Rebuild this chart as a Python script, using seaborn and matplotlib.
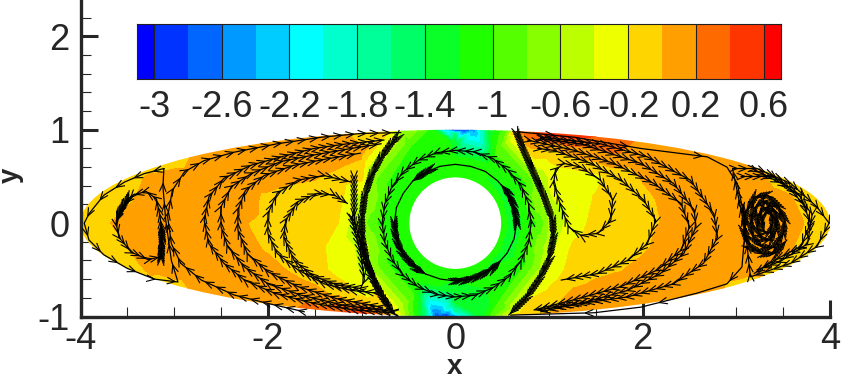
#!/usr/bin/env python3
import matplotlib

matplotlib.use("Agg")
import matplotlib.pyplot as plt
import numpy as np
import pandas as pd
import seaborn as sns
from matplotlib.collections import LineCollection
from matplotlib.colors import BoundaryNorm, ListedColormap
from matplotlib.patches import Circle, Ellipse
from matplotlib.tri import Triangulation

# contour bands
LEVELS = [-3.1, -3.0, -2.8, -2.6, -2.4, -2.2, -2.0, -1.8, -1.6, -1.4, -1.2,
          -1.0, -0.8, -0.6, -0.4, -0.2, 0.0, 0.2, 0.4, 0.6, 0.7]
BAND_COLORS = ["#0000ff", "#0033ff", "#0066ff", "#0099ff", "#00ccff", "#00ffff",
               "#00ffcc", "#00ff99", "#00ff66", "#0aff28", "#1eff00", "#55ff00",
               "#88ff00", "#bbff00", "#eeff00", "#ffd500", "#ffa000", "#ff6a00",
               "#ff3500", "#ff0000"]
LEGEND_TICKS = [-3, -2.6, -2.2, -1.8, -1.4, -1, -0.6, -0.2, 0.2, 0.6]
LEGEND_LABELS = ["-3", "-2.6", "-2.2", "-1.8", "-1.4", "-1", "-0.6", "-0.2", "0.2", "0.6"]

X_TICKS = [-4, -2, 0, 2, 4]
Y_TICKS = [-1, 0, 1, 2]

# field values, outer parts of the ellipse
FIELD_Y = [0.75, 0.5, 0.25, 0.0, -0.25, -0.5, -0.75]
LEFT_X = [-4, -3.75, -3.5, -3.25, -3, -2.75, -2.5, -2.25, -2, -1.75, -1.5, -1.25, -1]
LEFT_V = [
    [-.1, -.1, -.1, -.1, -.1, -.1, .02, .08, .1, .12, .12, .1, .04],
    [-.1, -.1, -.1, .02, .08, .1, .12, .12, .1, .04, .02, -.05, -.12],
    [-.1, -.1, -.02, .05, .1, .12, .12, .08, -.05, -.08, -.1, -.12, -.5],
    [-.05, -.02, .05, .1, .12, .12, .08, .01, -.05, -.08, -.12, -.2, -.75],
    [-.1, -.1, 0, .08, .1, .12, .12, .06, -.03, -.08, -.12, -.3, -.45],
    [-.1, -.1, -.1, .02, .08, .1, .12, .12, .07, -.02, -.1, -.28, -.42],
    [-.1, -.1, -.1, -.1, -.1, -.1, .05, .1, .12, .12, .06, -.05, -.3],
]
RIGHT_X = [1, 1.25, 1.5, 1.75, 2, 2.25, 2.5, 2.75, 3, 3.25, 3.5, 3.75, 4]
RIGHT_V = [
    [-.1, .05, .15, .2, .14, .12, .08, .0, -.1, -.1, -.1, -.1, -.1],
    [-.38, -.32, -.25, -.1, .02, .1, .12, .12, .1, .03, -.03, -.1, -.1],
    [-.42, -.32, -.18, -.1, -.05, .04, .1, .12, .12, .1, .05, -.02, -.1],
    [-.6, -.28, -.15, -.1, -.05, .02, .1, .12, .12, .12, .08, -.01, -.1],
    [-.5, -.18, -.1, -.08, -.03, .06, .1, .12, .12, .1, .05, -.05, -.1],
    [-.35, -.12, -.05, -.01, .05, .1, .12, .12, .1, .03, -.05, -.1, -.1],
    [-.15, .03, .08, .1, .1, .1, .05, .0, -.1, -.1, -.1, -.1, -.1],
]

# around the hole
POLAR_THETA = [0, 30, 60, 90, 120, 150, 180, 210, 240, 270, 300, 330]
POLAR_R = [0.49, 0.6, 0.72, 0.85, 0.95, 1.05]
POLAR_V = [
    [-1.1, -1.25, -1.2, -1.05, -.8, -.55],
    [-1.1, -1.25, -1.2, -1.05, -.8, -.5],
    [-1.1, -1.2, -1.15, -1.0, -.9, -.8],
    [-1.1, -1.2, -1.2, -1.25, -1.5, -3.0],
    [-1.1, -1.2, -1.15, -1.05, -1.0, -.85],
    [-1.1, -1.2, -1.15, -1.0, -.85, -.6],
    [-1.1, -1.2, -1.15, -1.0, -.8, -.55],
    [-1.1, -1.2, -1.15, -1.0, -.8, -.5],
    [-1.1, -1.2, -1.15, -1.05, -.9, -.75],
    [-1.1, -1.2, -1.25, -1.35, -1.8, -3.0],
    [-1.1, -1.2, -1.15, -1.1, -1.0, -.85],
    [-1.1, -1.25, -1.2, -1.05, -.8, -.5],
]

# values along the ellipse edge
TOP_EDGE_X = [-4, -3.75, -3.5, -3, -2.5, -2, -1.5, -1, -.75, -.5, -.25, -.1, 0, .1, .2,
              .35, .5, .6, .65, .75, 1, 1.25, 1.5, 2, 2.5, 3, 3.5, 3.75, 4]
TOP_EDGE_V = [-.05, -.05, -.05, -.08, .03, .08, .05, -.05, -.1, -.6, -1.1, -2.4, -3, -3,
              -2.5, -1.4, -1, -.6, .3, .35, .5, .5, .4, .15, .1, 0, -.08, -.08, -.05]
BOTTOM_EDGE_X = [-3.75, -3.5, -3, -2.5, -2, -1.5, -1.25, -1, -.75, -.6, -.45, -.3, -.2,
                 -.1, 0, .1, .25, .4, .55, .65, .75, 1, 1.5, 2, 2.5, 3, 3.5, 3.75]
BOTTOM_EDGE_V = [-.05, -.05, -.05, .02, .1, .25, .38, .5, .1, -.3, -1, -1.7, -2.8, -3,
                 -2.6, -2, -1.4, -.9, -.4, -.1, 0, 0, .05, .05, .02, -.05, -.08, -.08]

# streamlines, left half
L1_X = [-3.62, -3.59, -3.46, -3.28, -3.14, -3.13, -3.15, -3.19, -3.30, -3.44, -3.55, -3.62]
L1_Y = [0, -.15, -.31, -.39, -.36, -.15, .07, .26, .34, .30, .175, 0]
L1A_X = [-3.49, -3.55, -3.59, -3.62]
L1A_Y = [.27, .175, .10, .02]
L1B_X = [-3.14, -3.13, -3.14]
L1B_Y = [-.38, -.15, .0]
L2_X = [-3.11, -3.32, -3.53, -3.75, -3.91, -3.96, -3.91, -3.75, -3.50, -3.21, -2.96, -3.03, -3.09, -3.12, -3.11]
L2_Y = [.585, .53, .44, .30, .10, 0, -.18, -.34, -.485, -.60, -.63, -.40, .03, .39, .585]
L3_X = [-1.61, -2.00, -2.36, -2.71, -2.93, -3.03, -3.07, -3.02, -2.89, -2.68, -2.36, -1.90, -1.43, -1.01, -.58]
L3_Y = [-.95, -.86, -.77, -.61, -.43, -.22, .07, .35, .55, .67, .76, .85, .92, .96, .97]
L4_X = [-.65, -1.08, -1.51, -1.93, -2.25, -2.47, -2.63, -2.68, -2.63, -2.47, -2.18, -1.86, -1.51, -1.15, -.76]
L4_Y = [-.96, -.93, -.86, -.75, -.61, -.43, -.22, .03, .28, .48, .62, .71, .80, .85, .89]
L5_X = [-.65, -1.19, -1.65, -2.00, -2.25, -2.43, -2.50, -2.50, -2.39, -2.18, -1.86, -1.51, -1.11, -.79]
L5_Y = [-.95, -.88, -.77, -.65, -.47, -.25, -.04, .175, .39, .53, .66, .73, .80, .85]
L6_X = [-.79, -1.26, -1.68, -2.00, -2.22, -2.32, -2.32, -2.24, -2.04, -1.72, -1.36, -1.01]
L6_Y = [-.90, -.81, -.68, -.52, -.325, -.075, .14, .35, .51, .62, .69, .75]
L7_X = [-.83, -1.11, -1.40, -1.68, -1.90, -2.00, -2.00, -1.90, -1.68, -1.40, -1.11]
L7_Y = [-.75, -.72, -.65, -.50, -.325, -.11, .10, .32, .46, .51, .44]
L8_X = [-1.11, -1.01, -.97, -1.01, -1.26, -1.51, -1.72, -1.83, -1.81, -1.68, -1.47, -1.29, -1.15]
L8_Y = [.07, -.325, -.61, -.70, -.66, -.57, -.40, -.15, .03, .23, .32, .30, .21]
L9_X = [-.62, -.71, -.81, -.90, -.97, -1.0, -.99, -.94, -.85, -.76, -.65]
L9_Y = [.92, .82, .675, .50, .28, .03, -.18, -.43, -.65, -.82, -.97]
L10_X = [-1.08, -1.08, -.90, -.69]
L10_Y = [.50, .03, -.575, -.93]

# streamlines, right half
R1_X = [1.07, 1.16, 1.34, 1.55, 1.68, 1.66, 1.52, 1.34, 1.21, 1.13, 1.05, 1.07]
R1_Y = [.57, .64, .60, .46, .25, .03, -.11, -.13, -.04, .175, .425, .57]
R2_X = [.88, 1.05, 1.45, 1.77, 2.01, 2.14, 2.05, 1.84, 1.52, 1.13]
R2_Y = [.80, .78, .64, .46, .25, .03, -.22, -.40, -.54, -.61]
R3_X = [.77, 1.27, 1.69, 2.12, 2.41, 2.50, 2.41, 2.16, 1.77, 1.27, .84]
R3_Y = [.89, .78, .64, .425, .21, -.04, -.29, -.50, -.68, -.82, -.93]
R4_X = [.91, 1.34, 1.98, 2.33, 2.55, 2.57, 2.44, 2.19, 1.84, 1.41, .91]
R4_Y = [.905, .85, .64, .425, .14, -.04, -.325, -.54, -.72, -.84, -.95]
R5_X = [.91, 1.55, 2.05, 2.51, 2.76, 2.80, 2.65, 2.33, 1.84, 1.34, .88]
R5_Y = [.92, .85, .71, .46, .10, -.15, -.43, -.65, -.79, -.86, -.93]
R6_X = [.65, 1.27, 1.98, 2.69, 2.90, 3.01, 3.10, 3.06, 2.90, 2.58, 1.98, 1.48, .59]
R6_Y = [.98, .92, .80, .71, .60, .425, 0, -.47, -.65, -.75, -.90, -.96, -.985]
R7_X = [.66, .73, .84, .95, 1.04, 1.05, 1.0, .89, .75, .57]
R7_Y = [.96, .78, .53, .28, .03, -.15, -.40, -.61, -.81, -.985]
R8_X = [2.96, 3.22, 3.58, 3.86, 3.99, 3.86, 3.58, 3.15, 3.10, 2.96]
R8_Y = [.585, .585, .425, .175, 0, -.25, -.43, -.575, -.10, .585]
R9_X = [3.05, 3.40, 3.69, 3.79, 3.69, 3.40, 3.19]
R9_Y = [.50, .50, .28, 0, -.25, -.40, -.54]
R10_X = [3.19, 3.55, 3.81, 3.76, 3.47, 3.22]
R10_Y = [.57, .39, .10, -.22, -.41, -.50]
SPIRAL_X = [3.33, 3.28, 3.27, 3.30, 3.36, 3.39, 3.37, 3.30, 3.23, 3.22, 3.27, 3.36, 3.43, 3.44, 3.38, 3.29,
            3.19, 3.15, 3.18, 3.28, 3.40, 3.50, 3.52, 3.45, 3.33, 3.20, 3.10, 3.08, 3.14, 3.28, 3.42, 3.54]
SPIRAL_Y = [.12, .07, 0, -.10, -.10, 0, .12, .17, .08, -.05, -.17, -.18, -.08, .05, .18, .24,
            .16, 0, -.16, -.26, -.26, -.12, .03, .18, .30, .28, .12, -.08, -.25, -.33, -.32, -.18]

# rings around the hole
RING_THETA = [0, 15, 30, 45, 60, 75, 90, 105, 120, 135, 150, 165, 180, 195, 210, 225, 240, 255, 270,
              285, 300, 315, 330, 345, 360]
OUTER_RING_R = [.81, .81, .81, .80, .80, .79, .78, .78, .78, .78, .78, .78, .78, .78, .78, .79, .79, .79,
                .79, .80, .80, .81, .81, .81, .81]
INNER_RING_R = [.655, .65, .65, .64, .64, .63, .63, .63, .63, .64, .64, .65, .65, .65, .65, .64, .63, .62,
                .62, .62, .62, .63, .64, .65, .655]
DENSE_ARCS = [([0, 10, 20, 30, 40], [.655, .65, .65, .65, .64]),
              ([115, 125, 135], [.63, .63, .64]),
              ([180, 190, 200, 210, 220, 230, 240], [.65, .65, .65, .65, .64, .64, .63]),
              ([270, 280, 290, 300, 310, 320], [.62, .62, .62, .62, .63, .63])]


def polar_xy(theta, r):
    t = np.radians(theta)
    return np.asarray(r) * np.cos(t), np.asarray(r) * np.sin(t)


def field_points():
    xs, ys, vs = [], [], []
    for grid_x, table in ((LEFT_X, LEFT_V), (RIGHT_X, RIGHT_V)):
        gx, gy = np.meshgrid(grid_x, FIELD_Y)
        keep = gy**2 + gx**2 / 16 < 0.93
        xs.append(gx[keep])
        ys.append(gy[keep])
        vs.append(np.array(table)[keep])

    gt, gr = np.meshgrid(POLAR_THETA, POLAR_R, indexing="ij")
    px, py = polar_xy(gt, gr)
    keep = py**2 + px**2 / 16 < 0.93
    xs.append(px[keep])
    ys.append(py[keep])
    vs.append(np.array(POLAR_V)[keep])

    # edge stations, repeated just outside so the mesh covers the whole ellipse
    for edge_x, edge_v, sign in ((TOP_EDGE_X, TOP_EDGE_V, 1), (BOTTOM_EDGE_X, BOTTOM_EDGE_V, -1)):
        ex = np.array(edge_x, dtype=float)
        ey = sign * np.sqrt(np.clip(1 - ex**2 / 16, 0, None))
        for scale in (1.0, 1.08):
            xs.append(ex * scale)
            ys.append(ey * scale)
            vs.append(np.array(edge_v))
    return np.concatenate(xs), np.concatenate(ys), np.concatenate(vs)


def chevrons(x, y, step, barb=0.095, angle=22):
    """Arrow heads along a polyline, every `step` data units."""
    x, y = np.asarray(x, float), np.asarray(y, float)
    dist = np.r_[0, np.cumsum(np.hypot(np.diff(x), np.diff(y)))]
    segs = []
    for s in np.arange(step / 2, dist[-1], step):
        i = min(np.searchsorted(dist, s) - 1, len(x) - 2)
        i = max(i, 0)
        f = (s - dist[i]) / max(dist[i + 1] - dist[i], 1e-9)
        tip = np.array([x[i] + f * (x[i + 1] - x[i]), y[i] + f * (y[i + 1] - y[i])])
        heading = np.arctan2(y[i + 1] - y[i], x[i + 1] - x[i])
        for side in (-1, 1):
            a = heading + np.pi + side * np.radians(angle)
            segs.append([tip, tip + barb * np.array([np.cos(a), np.sin(a)])])
    return segs


sns.set_style("ticks")
plt.rcParams["font.family"] = ["Liberation Sans", "DejaVu Sans"]
plt.rcParams["axes.unicode_minus"] = False

W, H = 850, 378
fig = plt.figure(figsize=(W / 100, H / 100), dpi=100)
ax = fig.add_axes([80.5 / W, (H - 316.5) / H, 749.5 / W, 316.5 / H])

cmap = ListedColormap(BAND_COLORS)
norm = BoundaryNorm(LEVELS, cmap.N)

px, py, pv = field_points()
tri = Triangulation(px, py)
cs = ax.tricontourf(tri, pv, levels=LEVELS, cmap=cmap, norm=norm, extend="both")
clip = Ellipse((0, 0), 8, 2, transform=ax.transData, fc="none", ec="none")
ax.add_patch(clip)
cs.set_clip_path(clip)
ax.add_patch(Circle((0, 0), 0.49, fc="white", ec="none", zorder=2))

# x, y, arrow spacing
ox, oy = polar_xy(RING_THETA, OUTER_RING_R)
ix, iy = polar_xy(RING_THETA, INNER_RING_R)
lines = [
    (L1_X, L1_Y, .07), (L1A_X, L1A_Y, .025), (L1B_X, L1B_Y, .025), (L2_X, L2_Y, .22), (L3_X, L3_Y, .13),
    (L4_X, L4_Y, .085), (L5_X, L5_Y, .085), (L6_X, L6_Y, .085), (L7_X, L7_Y, .085), (L8_X, L8_Y, .07),
    (L9_X, L9_Y, .03), (L10_X, L10_Y, .05),
    (R1_X, R1_Y, .085), (R2_X, R2_Y, .085), (R3_X, R3_Y, .085), (R4_X, R4_Y, .085), (R5_X, R5_Y, .085),
    (R6_X, R6_Y, .8), (R7_X, R7_Y, .03), (R8_X, R8_Y, .1), (R9_X, R9_Y, .085), (R10_X, R10_Y, .085),
    (SPIRAL_X, SPIRAL_Y, .03), (ox, oy, .085), (ix, iy, 9.0),
]
for theta, r in DENSE_ARCS:
    arc_x, arc_y = polar_xy(theta, r)
    lines.append((arc_x, arc_y, .025))

frames = [pd.DataFrame({"x": lx, "y": ly, "line": n}) for n, (lx, ly, _) in enumerate(lines)]
stream_df = pd.concat(frames, ignore_index=True)
sns.lineplot(data=stream_df, x="x", y="y", units="line", estimator=None, sort=False,
             color="black", lw=0.9, legend=False, ax=ax, zorder=3)

barbs = []
for lx, ly, step in lines:
    barbs.extend(chevrons(lx, ly, step))
ax.add_collection(LineCollection(barbs, colors="black", linewidths=0.8, zorder=3))

ax.set_xlim(-4, 4)
ax.set_ylim(-1, 2.39)
ax.set_xticks(X_TICKS)
ax.set_yticks(Y_TICKS)
ax.set_xticks(np.arange(-3.5, 4, 0.5)[[i for i in range(15) if (i + 1) % 4 != 0]], minor=True)
ax.set_yticks([v for v in np.arange(-0.8, 2.4, 0.2) if abs(v - round(v)) > 1e-6], minor=True)
ax.tick_params(which="major", direction="in", length=12, width=2.2, labelsize=26)
ax.tick_params(axis="x", which="major", pad=4)
ax.tick_params(axis="y", which="major", pad=8)
ax.tick_params(which="minor", direction="in", length=7, width=0.8)
ax.set_xticklabels([str(v) for v in X_TICKS])
ax.set_yticklabels([str(v) for v in Y_TICKS])
for tick in ax.xaxis.get_major_ticks() + ax.yaxis.get_major_ticks():
    tick.tick1line.set_clip_on(False)
sns.despine(ax=ax)
ax.spines[["left", "bottom"]].set_linewidth(2.4)
ax.set_xlabel("x", fontsize=20, fontweight="bold")
ax.set_ylabel("y", fontsize=20, fontweight="bold")
ax.xaxis.set_label_coords(0.499, -0.118)
ax.yaxis.set_label_coords(-0.075, 0.445)

# contour legend drawn as a one row heatmap
cax = fig.add_axes([137 / W, (H - 78.5) / H, 643.7 / W, 54.5 / H])
cells = np.arange(-3.05, 0.7, 0.1).reshape(1, -1)
sns.heatmap(cells, cmap=cmap, norm=norm, cbar=False, xticklabels=False, yticklabels=False, ax=cax)
cell_pos = [(v - LEVELS[0]) / 0.1 for v in LEGEND_TICKS]
cax.vlines(cell_pos, 0, 1, colors="#202020", lw=0.8)
cax.set_xticks(cell_pos)
cax.set_xticklabels(LEGEND_LABELS, fontsize=26, rotation=0)
cax.tick_params(axis="x", length=0, pad=8)
for spine in cax.spines.values():
    spine.set_visible(True)
    spine.set_linewidth(0.8)
    spine.set_color("#202020")

fig.savefig("out.png", dpi=100)
